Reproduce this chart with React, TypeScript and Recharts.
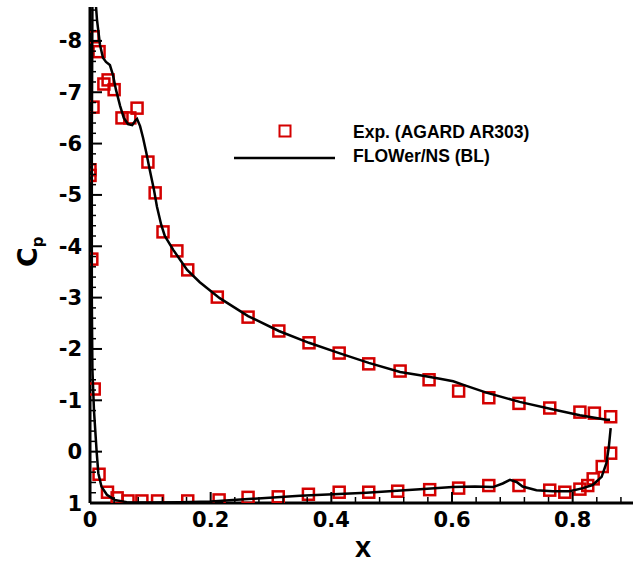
import React from 'react';
import { ScatterChart, Scatter, XAxis, YAxis } from 'recharts';

// Experimental Cp (AGARD AR303), upper surface then lower surface
const expX = [
  0.005, 0.015, 0.023, 0.03, 0.04, 0.053, 0.066, 0.078, 0.096, 0.108, 0.121, 0.144, 0.162, 0.211,
  0.262, 0.313, 0.363, 0.413, 0.462, 0.514, 0.562, 0.611, 0.661, 0.711, 0.762, 0.812, 0.836, 0.863,
  0.863, 0.849, 0.834, 0.825, 0.812, 0.787, 0.762, 0.711, 0.661, 0.611, 0.563, 0.51, 0.462, 0.413,
  0.362, 0.312, 0.262, 0.214, 0.162, 0.112, 0.086, 0.063, 0.045, 0.029, 0.015, 0.007, 0.003, 0.0,
  0.0, 0.005,
];
const expCp = [
  -8.08, -7.79, -7.16, -7.24, -7.05, -6.5, -6.5, -6.69, -5.64, -5.04, -4.28, -3.91, -3.54, -3.01,
  -2.62, -2.35, -2.12, -1.92, -1.71, -1.57, -1.4, -1.18, -1.05, -0.94, -0.85, -0.77, -0.75, -0.68,
  0.03, 0.29, 0.53, 0.66, 0.73, 0.79, 0.75, 0.66, 0.66, 0.71, 0.74, 0.77, 0.79, 0.79,
  0.83, 0.88, 0.89, 0.94, 0.96, 0.96, 0.96, 0.96, 0.9, 0.79, 0.44, -1.22, -3.75, -5.49,
  -5.38, -6.71,
];

// FLOWer/NS (BL) curve, from trailing edge along upper side, round the nose, back along lower side
const cfdX = [
  0.862, 0.856, 0.812, 0.768, 0.712, 0.657, 0.619, 0.602, 0.58, 0.547, 0.514, 0.462, 0.413, 0.363,
  0.313, 0.262, 0.215, 0.182, 0.161, 0.138, 0.124, 0.118, 0.111, 0.106, 0.099, 0.093, 0.088, 0.083,
  0.078, 0.0746, 0.07, 0.063, 0.056, 0.05, 0.043, 0.038, 0.033, 0.0265, 0.0215, 0.0166, 0.0116, 0.01,
  0.007, 0.004, 0.003, 0.003, 0.004, 0.0066, 0.011, 0.0138, 0.019, 0.028, 0.041, 0.061, 0.1, 0.15,
  0.2, 0.237, 0.348, 0.458, 0.547, 0.601, 0.638, 0.668, 0.684, 0.696, 0.707, 0.717, 0.74, 0.767,
  0.795, 0.817, 0.833, 0.848, 0.856, 0.86, 0.863,
];
const cfdCp = [
  -0.62, -0.62, -0.71, -0.82, -0.97, -1.15, -1.3, -1.37, -1.42, -1.49, -1.55, -1.73, -1.92, -2.12,
  -2.35, -2.64, -2.99, -3.3, -3.54, -3.93, -4.2, -4.42, -4.77, -5.1, -5.49, -5.84, -6.11, -6.34,
  -6.48, -6.44, -6.36, -6.38, -6.5, -6.73, -7.05, -7.34, -7.53, -7.59, -7.67, -7.92, -8.41, -8.66,
  -9.4, -8.66, -6.0, -3.0, -1.6, -0.8, 0.0, 0.42, 0.68, 0.84, 0.94, 0.985, 0.99, 0.985,
  0.97, 0.94, 0.86, 0.8, 0.73, 0.69, 0.68, 0.69, 0.62, 0.55, 0.59, 0.68, 0.75, 0.77,
  0.77, 0.71, 0.65, 0.49, 0.22, -0.1, -0.46,
];

const xMajor = [0, 0.2, 0.4, 0.6, 0.8];
const yMajor = [-8, -7, -6, -5, -4, -3, -2, -1, 0, 1];
const xTicks = Array.from({ length: 23 }, (_, i) => Math.round(i * 4) / 100);
const yTicks = Array.from({ length: 49 }, (_, i) => (i - 43) / 5);

const expData = expX.map((x, i) => ({ x, cp: expCp[i] }));
const cfdData = cfdX.map((x, i) => ({ x, cp: cfdCp[i] }));

const PLOT_LEFT = 90;
const PLOT_BOTTOM = 503;
const RED = '#d40000';
const tickFont = { fontFamily: '"DejaVu Sans", sans-serif', fontWeight: 'bold' as const, fontSize: 21 };

const isMajor = (v: number, list: number[]) => list.some((m) => Math.abs(m - v) < 1e-6);

const XTick = (props: any) => {
  const { x, payload } = props;
  const major = isMajor(payload.value, xMajor);
  return (
    <g>
      <line x1={x} x2={x} y1={PLOT_BOTTOM} y2={PLOT_BOTTOM - (major ? 11 : 6)} stroke="#000" strokeWidth={major ? 2 : 1.5} />
      {major && (
        <text x={x} y={527} textAnchor="middle" fill="#000" {...tickFont}>
          {String(payload.value)}
        </text>
      )}
    </g>
  );
};

const YTick = (props: any) => {
  const { y, payload } = props;
  const major = isMajor(payload.value, yMajor);
  return (
    <g>
      <line x1={PLOT_LEFT} x2={PLOT_LEFT + (major ? 12 : 6)} y1={y} y2={y} stroke="#000" strokeWidth={major ? 2 : 1.5} />
      {major && (
        <text x={82} y={y + 7.5} textAnchor="end" fill="#000" {...tickFont}>
          {String(Math.round(payload.value))}
        </text>
      )}
    </g>
  );
};

const Square = (props: any) => {
  const { cx, cy } = props;
  return <rect x={cx - 5.5} y={cy - 5.5} width={11} height={11} fill="none" stroke={RED} strokeWidth={2.5} />;
};

const CpLabel = () => (
  <text transform="translate(37, 267) rotate(-90)" fill="#000" fontFamily='"DejaVu Sans", sans-serif' fontWeight="bold" fontSize={27}>
    C
    <tspan fontSize={15} dy={6}>p</tspan>
  </text>
);

const XLabel = () => (
  <text x={363} y={557} textAnchor="middle" fill="#000" fontFamily='"Liberation Sans", Arial, sans-serif' fontWeight="bold" fontSize={29}>
    x
  </text>
);

const legendFont = { fontFamily: '"Liberation Sans", Arial, sans-serif', fontWeight: 'bold' as const, fontSize: 17.5 };

const App: React.FC = () => {
  return (
    <div style={{ position: 'absolute', left: 0, top: 0, width: 643, height: 565 }}>
      <ScatterChart width={643} height={565} margin={{ top: 7, right: 10, bottom: 0, left: 10 }}>
        <XAxis
          type="number"
          dataKey="x"
          domain={[0, 0.9]}
          ticks={xTicks}
          interval={0}
          tick={<XTick />}
          tickLine={false}
          axisLine={{ stroke: '#000', strokeWidth: 3 }}
          height={62}
          allowDataOverflow
          label={<XLabel />}
        />
        <YAxis
          type="number"
          dataKey="cp"
          domain={[-8.66, 1]}
          reversed
          ticks={yTicks}
          interval={0}
          tick={<YTick />}
          tickLine={false}
          axisLine={{ stroke: '#000', strokeWidth: 3 }}
          width={80}
          allowDataOverflow
          label={<CpLabel />}
        />
        <Scatter data={expData} shape={<Square />} isAnimationActive={false} />
        <Scatter
          data={cfdData}
          shape={() => <g />}
          line={{ stroke: '#000', strokeWidth: 2.5 }}
          isAnimationActive={false}
        />
      </ScatterChart>
      <svg width={643} height={565} style={{ position: 'absolute', left: 0, top: 0, pointerEvents: 'none' }}>
        <rect x={279.5} y={125.5} width={11} height={11} fill="none" stroke={RED} strokeWidth={2} />
        <text x={353} y={138} fill="#000" {...legendFont}>Exp. (AGARD AR303)</text>
        <line x1={234} x2={335} y1={158} y2={158} stroke="#000" strokeWidth={2.5} />
        <text x={353} y={162} fill="#000" {...legendFont}>FLOWer/NS (BL)</text>
      </svg>
    </div>
  );
};

export default App;
